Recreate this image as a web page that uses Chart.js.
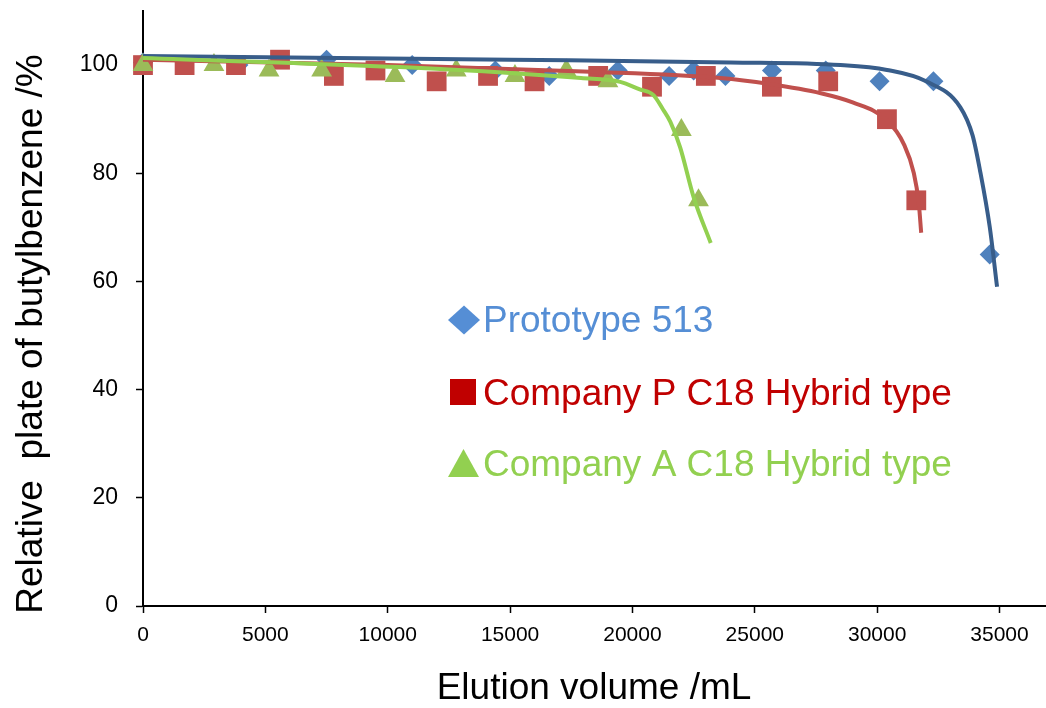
<!DOCTYPE html>
<html>
<head>
<meta charset="utf-8">
<script src="https://cdn.jsdelivr.net/npm/chart.js@4.4.0/dist/chart.umd.min.js"></script>
<style>
  html, body { margin: 0; padding: 0; background: #fff; }
</style>
</head>
<body>
<canvas id="chart" width="1046" height="708"></canvas>
<script>
'use strict';

// 測定点（読み取り値）
const protoX = [0, 3900, 7500, 11000, 14400, 16600, 19400, 21500, 22500, 23800, 25700, 27900, 30100, 32300, 34600];
const protoY = [100.5, 100, 101, 100, 99, 98, 99, 98, 99, 98, 99, 99, 97, 97, 65];

const compPX = [0, 1700, 3800, 5600, 7800, 9500, 12000, 14100, 16000, 18600, 20800, 23000, 25700, 28000, 30400, 31600];
const compPY = [100, 100, 100, 101, 98, 99, 97, 98, 97, 98, 96, 98, 96, 97, 90, 75];

const compAX = [0, 2900, 5150, 7300, 10300, 12800, 15200, 17300, 19000, 22000, 22700];
const compAY = [100, 100, 99, 99, 98, 99, 98, 99, 97, 88, 75];

// 近似曲線
const protoFitX = [0, 15000, 24000, 28500, 30400, 32000, 33400, 33900, 34200, 34600, 34900];
const protoFitY = [101.7, 101.0, 100.5, 100.0, 99.1, 97.0, 92.2, 87.0, 80.6, 70.1, 59.0];

const compPFitX = [0, 10000, 18000, 23600, 25600, 27700, 29000, 30400, 31100, 31500, 31700, 31800];
const compPFitY = [101.0, 100.0, 98.8, 97.6, 96.5, 94.8, 93.1, 89.8, 85.3, 80.0, 74.5, 69.0];

const compAFitX = [0, 12500, 17900, 19500, 20300, 20850, 21250, 21550, 21950, 22500, 23200];
const compAFitY = [101.3, 99.2, 97.6, 96.9, 95.5, 94.5, 91.8, 89.5, 84.8, 75.6, 67.1];

// 目盛り
const xTicks = [0, 5000, 10000, 15000, 20000, 25000, 30000, 35000];
const yTicks = [0, 20, 40, 60, 80, 100];

const seriesNames = ['Prototype 513', 'Company P C18 Hybrid type', 'Company A C18 Hybrid type'];
const xTitle = 'Elution volume /mL';
const yTitle = 'Relative  plate of butylbenzene /%';

const FONT = "'Liberation Sans', Arial, sans-serif";

const toPoints = (xs, ys) => xs.map((x, i) => ({ x: x, y: ys[i] }));

// 凡例と軸タイトル
const labelsPlugin = {
  id: 'labelsPlugin',
  afterDraw(chart) {
    const ctx = chart.ctx;
    ctx.save();
    ctx.fillStyle = '#000';
    ctx.font = '37px ' + FONT;
    ctx.textAlign = 'center';
    ctx.textBaseline = 'alphabetic';
    ctx.fillText(xTitle, 594, 699);

    ctx.translate(42, 334);
    ctx.rotate(-Math.PI / 2);
    ctx.fillText(yTitle, 0, 0);
    ctx.restore();

    ctx.save();
    ctx.font = '37px ' + FONT;
    ctx.textAlign = 'left';
    ctx.textBaseline = 'alphabetic';
    // 菱形
    ctx.fillStyle = '#558ED5';
    ctx.beginPath();
    ctx.moveTo(464, 305.5);
    ctx.lineTo(480, 320);
    ctx.lineTo(464, 334.5);
    ctx.lineTo(448, 320);
    ctx.closePath();
    ctx.fill();
    ctx.fillText(seriesNames[0], 483, 332);
    // 四角
    ctx.fillStyle = '#C00000';
    ctx.fillRect(450, 379, 26, 26);
    ctx.fillText(seriesNames[1], 483, 405);
    // 三角
    ctx.fillStyle = '#92D050';
    ctx.beginPath();
    ctx.moveTo(463.5, 449);
    ctx.lineTo(479, 477);
    ctx.lineTo(448, 477);
    ctx.closePath();
    ctx.fill();
    ctx.fillText(seriesNames[2], 483, 476);
    ctx.restore();
  },
};

const fitLine = (xs, ys, color) => ({
  data: toPoints(xs, ys),
  showLine: true,
  borderColor: color,
  borderWidth: 4,
  pointRadius: 0,
  cubicInterpolationMode: 'monotone',
  clip: false,
  order: 0,
});

const markers = (xs, ys, style, radius, color, order) => ({
  data: toPoints(xs, ys),
  showLine: false,
  pointStyle: style,
  pointRadius: radius,
  pointBackgroundColor: color,
  pointBorderColor: color,
  pointBorderWidth: 0,
  clip: false,
  order: order,
});

const axisGrid = {
  drawOnChartArea: false,
  drawTicks: true,
  tickLength: 7,
  tickColor: '#000',
  tickWidth: 1.5,
};

// ラベルによる余白を消す
const noPadding = (scale) => {
  scale.paddingTop = 0;
  scale.paddingBottom = 0;
  scale.paddingLeft = 0;
  scale.paddingRight = 0;
};

const ctx = document.getElementById('chart').getContext('2d');
new Chart(ctx, {
  type: 'scatter',
  data: {
    datasets: [
      markers(protoX, protoY, 'rectRot', 10, '#4F81BD', 3),
      markers(compPX, compPY, 'rect', 14, '#C0504D', 2),
      markers(compAX, compAY, 'triangle', 12, '#9BBB59', 1),
      fitLine(compAFitX, compAFitY, '#92D050'),
      fitLine(compPFitX, compPFitY, '#C0504D'),
      fitLine(protoFitX, protoFitY, '#385D8A'),
    ],
  },
  options: {
    responsive: false,
    animation: false,
    layout: { autoPadding: false, padding: { top: 11, right: 0, bottom: 0, left: 0 } },
    plugins: {
      legend: { display: false },
      tooltip: { enabled: false },
    },
    scales: {
      x: {
        type: 'linear',
        min: 0,
        max: 36900,
        ticks: {
          color: '#000',
          font: { family: FONT, size: 21 },
          padding: 10,
          maxRotation: 0,
          autoSkip: false,
          callback: (v) => String(v),
        },
        afterBuildTicks: (scale) => {
          scale.ticks = xTicks.map((v) => ({ value: v }));
        },
        afterFit: (scale) => {
          scale.height = 102;
          noPadding(scale);
        },
        grid: axisGrid,
        border: { color: '#000', width: 2 },
      },
      y: {
        type: 'linear',
        min: 0,
        max: 110,
        ticks: {
          color: '#000',
          font: { family: FONT, size: 23 },
          padding: 18,
          autoSkip: false,
        },
        afterBuildTicks: (scale) => {
          scale.ticks = yTicks.map((v) => ({ value: v }));
        },
        afterFit: (scale) => {
          scale.width = 143;
          noPadding(scale);
        },
        grid: axisGrid,
        border: { color: '#000', width: 2 },
      },
    },
  },
  plugins: [labelsPlugin],
});
</script>
</body>
</html>
